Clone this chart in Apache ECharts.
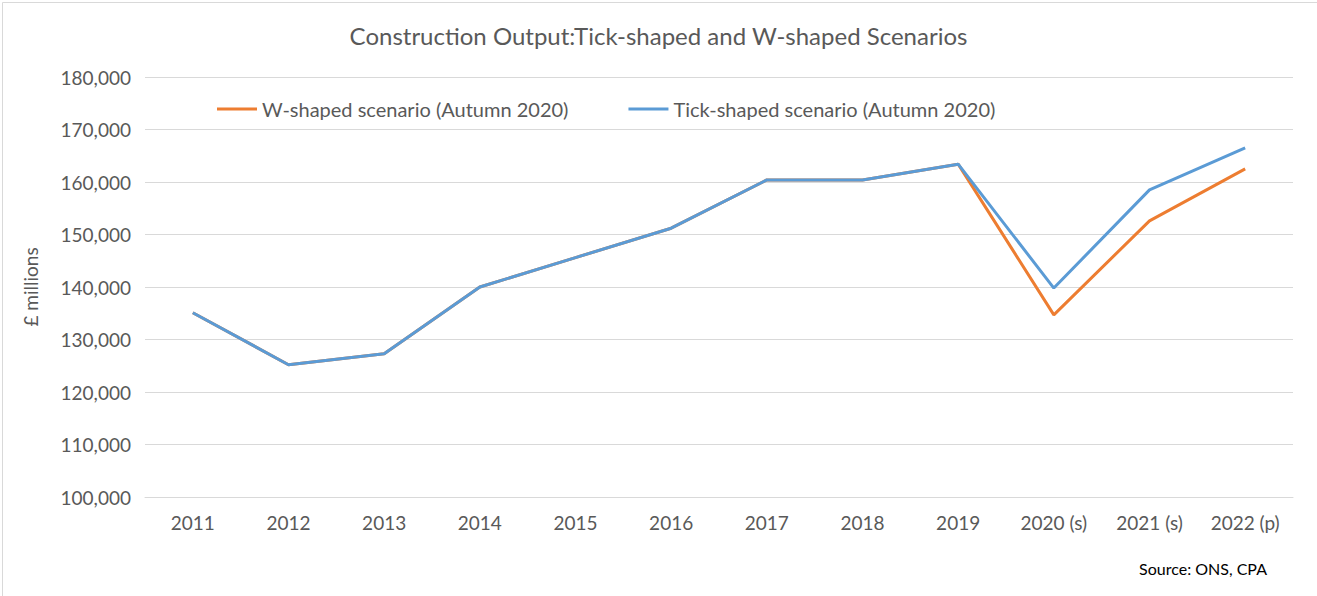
<!DOCTYPE html>
<html>
<head>
<meta charset="utf-8">
<script src="https://cdn.jsdelivr.net/npm/echarts@6/dist/echarts.min.js"></script>
<style>
  html, body { margin: 0; padding: 0; background: #fff; }
  #chart { width: 1317px; height: 596px; }
</style>
</head>
<body>
<div id="chart"></div>
<script>
const years = ['2011', '2012', '2013', '2014', '2015', '2016', '2017', '2018', '2019', '2020 (s)', '2021 (s)', '2022 (p)'];
const wShaped = [135100, 125200, 127300, 140000, 145600, 151200, 160400, 160400, 163400, 134700, 152600, 162500];
const tickShaped = [135100, 125200, 127300, 140000, 145600, 151200, 160400, 160400, 163400, 139800, 158500, 166500];

const font = "'Lato', 'Open Sans', sans-serif";
const chart = echarts.init(document.getElementById('chart'), null, { renderer: 'svg' });

chart.setOption({
  animation: false,
  textStyle: { fontFamily: font },
  title: {
    text: 'Construction Output:Tick-shaped and W-shaped Scenarios',
    left: 'center', top: 18,
    textStyle: { fontSize: 24, fontWeight: 'normal', color: '#595959', fontFamily: font }
  },
  legend: {
    top: 94, left: 212, itemGap: 60, itemWidth: 40, itemHeight: 3,
    icon: 'rect',
    textStyle: { fontSize: 20, color: '#595959', fontFamily: font },
    data: ['W-shaped scenario (Autumn 2020)', 'Tick-shaped scenario (Autumn 2020)']
  },
  graphic: [{
    type: 'text', right: 50, top: 560,
    style: { text: 'Source: ONS, CPA', fontSize: 16, fill: '#000', fontFamily: font }
  }, {
    type: 'rect', left: 0, top: 0,
    shape: { width: 1316, height: 595 },
    style: { fill: 'none', stroke: '#d9d9d9', lineWidth: 1 }
  }],
  grid: { left: 145, right: 24, top: 77, bottom: 99 },
  xAxis: {
    type: 'category', data: years, boundaryGap: true,
    axisLine: { lineStyle: { color: '#d9d9d9' } },
    axisTick: { show: false },
    axisLabel: { fontSize: 19, color: '#595959', margin: 16, fontFamily: font }
  },
  yAxis: {
    type: 'value', min: 100000, max: 180000, interval: 10000,
    name: '£ millions', nameLocation: 'middle', nameGap: 105, nameRotate: 90,
    nameTextStyle: { fontSize: 19, color: '#595959', fontFamily: font },
    axisLine: { show: false }, axisTick: { show: false },
    splitLine: { lineStyle: { color: '#d9d9d9' } },
    axisLabel: {
      fontSize: 19, color: '#595959', margin: 14, fontFamily: font,
      formatter: v => v.toLocaleString('en-GB')
    }
  },
  series: [{
    name: 'W-shaped scenario (Autumn 2020)', type: 'line', data: wShaped,
    symbol: 'none', lineStyle: { width: 3, color: '#ed7d31' }, itemStyle: { color: '#ed7d31' }
  }, {
    name: 'Tick-shaped scenario (Autumn 2020)', type: 'line', data: tickShaped,
    symbol: 'none', lineStyle: { width: 3, color: '#5b9bd5' }, itemStyle: { color: '#5b9bd5' }
  }]
});
</script>
</body>
</html>
